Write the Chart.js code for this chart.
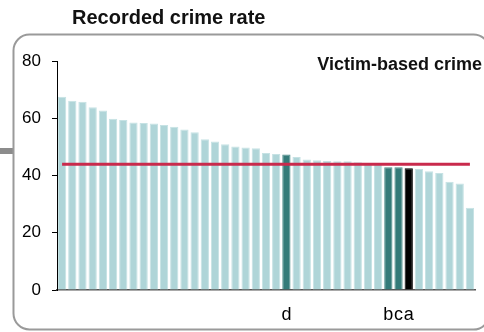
<!DOCTYPE html>
<html lang="en">
<head>
  <meta charset="UTF-8">
  <title>Recorded crime rate</title>
  <script src="https://cdn.jsdelivr.net/npm/chart.js"></script>
  <style>
    html, body {
      margin: 0;
      padding: 0;
      background: #fff;
    }
    #wrap {
      width: 484px;
      height: 332px;
      position: relative;
    }
  </style>
</head>
<body>

  <div id="wrap">
    <canvas id="chart"></canvas>
  </div>

  <script>
    // one label per area, only the highlighted ones are named
    const categories = [
      '', '', '', '', '', '', '', '', '', '',
      '', '', '', '', '', '', '', '', '', '',
      '', '', 'd', '', '', '', '', '', '', '',
      '', '', 'b', 'c', 'a', '', '', '', '', '',
      ''
    ];
    const rates = [
      67.5, 66.1, 65.8, 63.8, 62.7, 59.8, 59.4, 58.5, 58.3, 58.2,
      57.6, 57.0, 56.1, 55.1, 52.7, 51.9, 50.9, 50.1, 49.8, 49.5,
      47.9, 47.5, 47.3, 46.5, 45.6, 45.3, 45.1, 45.0, 45.0, 44.6,
      44.3, 44.1, 42.9, 42.9, 42.5, 42.3, 41.5, 40.9, 37.8, 37.2,
      28.7
    ];
    const averageRate = 43.9;
    const yTicks = [0, 20, 40, 60, 80];

    const FONT = "'Liberation Sans', Arial, sans-serif";

    const barColors = categories.map(c => c === 'a' ? '#000000' : (c ? '#347b79' : '#afd5d8'));
    const barBorders = categories.map(c => c === 'a' ? '#000000' : (c ? '#4d8c8a' : '#c6e2e4'));

    // frame, side stub and the two headings
    const decor = {
      id: 'decor',
      beforeDraw(chart) {
        const ctx = chart.ctx;
        ctx.save();
        ctx.fillStyle = '#8c8c8c';
        ctx.fillRect(0, 148, 13, 6);
        ctx.strokeStyle = '#9a9a9a';
        ctx.lineWidth = 2;
        ctx.beginPath();
        ctx.roundRect(13.5, 34.5, 476, 295, 16);
        ctx.stroke();
        ctx.restore();
      },
      afterDraw(chart) {
        const ctx = chart.ctx;
        ctx.save();
        ctx.fillStyle = '#111';
        ctx.textBaseline = 'alphabetic';
        ctx.font = 'bold 20px ' + FONT;
        ctx.textAlign = 'left';
        ctx.fillText('Recorded crime rate', 72, 24);
        ctx.font = 'bold 18px ' + FONT;
        ctx.textAlign = 'right';
        ctx.fillText('Victim-based crime', 482, 70);
        ctx.restore();
      }
    };

    const ctx = document.getElementById('chart').getContext('2d');
    new Chart(ctx, {
      data: {
        labels: categories,
        datasets: [
          {
            type: 'line',
            data: rates.map(() => averageRate),
            borderColor: '#c92a4c',
            borderWidth: 3,
            pointRadius: 0,
            fill: false,
            order: 0
          },
          {
            type: 'bar',
            data: rates,
            backgroundColor: barColors,
            borderColor: barBorders,
            borderWidth: 1,
            categoryPercentage: 1,
            barPercentage: 0.81,
            order: 1
          }
        ]
      },
      options: {
        responsive: true,
        maintainAspectRatio: false,
        animation: false,
        layout: {
          padding: { top: 61, left: 0, right: 9, bottom: 0 }
        },
        plugins: {
          legend: { display: false },
          tooltip: { enabled: false },
          title: { display: false }
        },
        scales: {
          x: {
            grid: { display: false },
            border: { display: true, color: '#555', width: 1.5 },
            ticks: {
              autoSkip: false,
              maxRotation: 0,
              minRotation: 0,
              padding: 6,
              color: '#000',
              font: { family: FONT, size: 18 }
            },
            afterFit(scale) { scale.height = 42; }
          },
          y: {
            min: 0,
            max: 80,
            afterBuildTicks(scale) { scale.ticks = yTicks.map(v => ({ value: v })); },
            grid: {
              display: true,
              drawOnChartArea: false,
              drawTicks: true,
              tickLength: 5,
              color: '#000'
            },
            border: { display: true, color: '#000', width: 1 },
            ticks: {
              padding: 11,
              color: '#000',
              font: { family: FONT, size: 17 }
            },
            afterFit(scale) { scale.width = 57; }
          }
        }
      },
      plugins: [decor]
    });
  </script>

</body>
</html>
